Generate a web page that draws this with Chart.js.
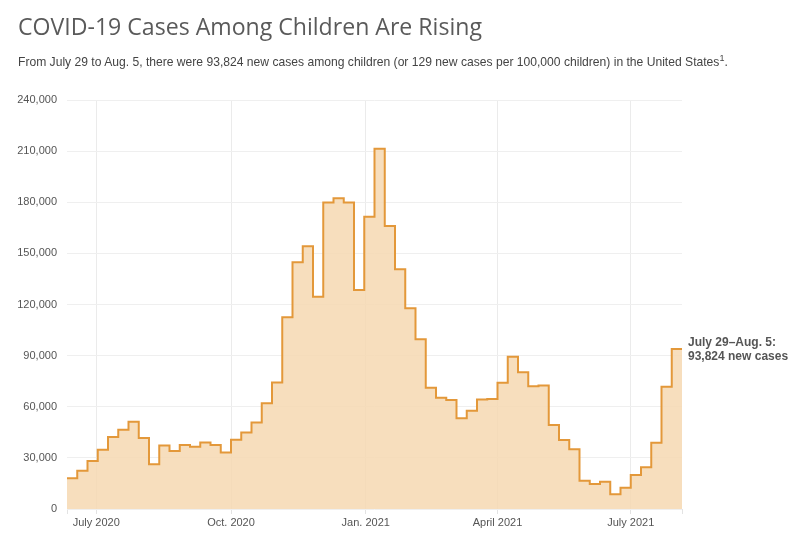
<!DOCTYPE html>
<html>
<head>
<meta charset="utf-8">
<script src="https://cdn.jsdelivr.net/npm/chart.js@4/dist/chart.umd.min.js"></script>
<style>
  html, body { margin: 0; padding: 0; background: #fff; }
  #wrap { position: relative; width: 800px; height: 540px; overflow: hidden; }
  #title { position: absolute; left: 18px; top: 10px; font-family: "Open Sans", sans-serif; font-weight: 400; font-size: 23.1px; color: #5a5a5a; white-space: nowrap; }
  #subtitle { position: absolute; left: 18px; top: 55px; font-family: "Liberation Sans", Arial, sans-serif; font-size: 12.12px; color: #444; white-space: nowrap; }
  #subtitle sup { font-size: 9px; vertical-align: 5px; line-height: 0; }
  #c { position: absolute; left: 0; top: 0; }
</style>
</head>
<body>
<div id="wrap">
  <canvas id="c" width="800" height="540"></canvas>
  <div id="title">COVID-19 Cases Among Children Are Rising</div>
  <div id="subtitle">From July 29 to Aug. 5, there were 93,824 new cases among children (or 129 new cases per 100,000 children) in the United States<sup>1</sup>.</div>
</div>
<script>
// Week start dates (each step covers start -> next start); last entry is the end of the final week
const weekStarts = [
  "2020-06-11","2020-06-18","2020-06-25","2020-07-02","2020-07-09","2020-07-16","2020-07-23","2020-07-30",
  "2020-08-06","2020-08-13","2020-08-20","2020-08-27","2020-09-03","2020-09-10","2020-09-17","2020-09-24",
  "2020-10-01","2020-10-08","2020-10-15","2020-10-22","2020-10-29","2020-11-05","2020-11-12","2020-11-19",
  "2020-11-26","2020-12-03","2020-12-10","2020-12-17","2020-12-24","2020-12-31","2021-01-07","2021-01-14",
  "2021-01-21","2021-01-28","2021-02-04","2021-02-11","2021-02-18","2021-02-25","2021-03-04","2021-03-11",
  "2021-03-18","2021-03-25","2021-04-01","2021-04-08","2021-04-15","2021-04-22","2021-04-29","2021-05-06",
  "2021-05-13","2021-05-20","2021-05-27","2021-06-03","2021-06-10","2021-06-17","2021-06-24","2021-07-01",
  "2021-07-08","2021-07-15","2021-07-22","2021-07-29"
];
const periodEnd = "2021-08-05";

// New weekly cases among children
const newCases = [
  18000, 22500, 28200, 34700, 42200, 46500, 51200, 41600,
  26300, 37300, 34100, 37600, 36500, 39000, 37600, 33100,
  40600, 44900, 50700, 62000, 74300, 112500, 144800, 154200,
  124600, 179800, 182300, 179800, 128500, 171500, 211466, 166000,
  140700, 117800, 99600, 71200, 65300, 64000, 53200, 57700,
  64200, 64600, 74100, 89400, 80200, 72000, 72400, 49300,
  40500, 35000, 16600, 14700, 16000, 8600, 12500, 20000,
  24500, 38900, 71726, 93824
];

// X-axis tick labels
const tickDates = ["2020-07-01","2020-10-01","2021-01-01","2021-04-01","2021-07-01"];
const tickLabels = ["July 2020","Oct. 2020","Jan. 2021","April 2021","July 2021"];

// Y-axis ticks
const yTickValues = [0, 30000, 60000, 90000, 120000, 150000, 180000, 210000, 240000];

const annotationLines = ["July 29\u2013Aug. 5:", "93,824 new cases"];

// --- build ---
const DAY = 86400000;
const origin = Date.parse(weekStarts[0] + "T00:00:00Z");
const dayOf = s => Math.round((Date.parse(s + "T00:00:00Z") - origin) / DAY);
const points = weekStarts.map((d, i) => ({ x: dayOf(d), y: newCases[i] }));
points.push({ x: dayOf(periodEnd), y: newCases[newCases.length - 1] });
const xMax = dayOf(periodEnd);
const tickDays = tickDates.map(dayOf);
const labelByDay = {};
tickDays.forEach((d, i) => labelByDay[d] = tickLabels[i]);

const annotationPlugin = {
  id: 'endLabel',
  afterDatasetsDraw(chart) {
    const { ctx, scales } = chart;
    const last = points[points.length - 1];
    const px = scales.x.getPixelForValue(last.x) + 6;
    const py = scales.y.getPixelForValue(last.y);
    ctx.save();
    ctx.font = 'bold 12px "Liberation Sans", Arial, sans-serif';
    ctx.fillStyle = '#555';
    ctx.textAlign = 'left';
    ctx.textBaseline = 'middle';
    ctx.fillText(annotationLines[0], px, py - 6);
    ctx.fillText(annotationLines[1], px, py + 8);
    ctx.restore();
  }
};

new Chart(document.getElementById('c'), {
  type: 'line',
  data: {
    datasets: [{
      data: points,
      stepped: 'before',
      borderColor: '#e3983a',
      borderWidth: 2,
      backgroundColor: 'rgba(246, 216, 178, 0.85)',
      fill: 'origin',
      pointRadius: 0,
      pointHoverRadius: 0,
      tension: 0
    }]
  },
  options: {
    responsive: false,
    animation: false,
    devicePixelRatio: 1,
    layout: { padding: { top: 100, right: 118, left: 0, bottom: 0 } },
    plugins: { legend: { display: false }, tooltip: { enabled: false } },
    scales: {
      x: {
        type: 'linear',
        min: 0,
        max: xMax,
        afterBuildTicks(scale) {
          scale.ticks = [0].concat(tickDays, [xMax]).map(v => ({ value: v }));
        },
        afterFit(scale) { scale.height = 31; },
        ticks: {
          autoSkip: false,
          maxRotation: 0,
          padding: 2,
          color: '#555',
          font: { family: '"Liberation Sans", Arial, sans-serif', size: 11 },
          callback: v => labelByDay[v] || ''
        },
        grid: {
          drawTicks: true,
          tickLength: 5,
          color: c => (c.tick && (c.tick.value === 0 || c.tick.value === xMax)) ? 'rgba(0,0,0,0)' : '#ebebeb',
          tickColor: '#e3e3e3',
          lineWidth: 1
        },
        border: { display: false }
      },
      y: {
        min: 0,
        max: 240000,
        afterBuildTicks(scale) {
          scale.ticks = yTickValues.map(v => ({ value: v }));
        },
        afterFit(scale) { scale.width = 67; },
        ticks: {
          padding: 10,
          color: '#555',
          font: { family: '"Liberation Sans", Arial, sans-serif', size: 11 },
          callback: v => v.toLocaleString('en-US')
        },
        grid: { drawTicks: false, color: '#efefef', lineWidth: 1 },
        border: { display: false }
      }
    }
  },
  plugins: [annotationPlugin]
});
</script>
</body>
</html>
